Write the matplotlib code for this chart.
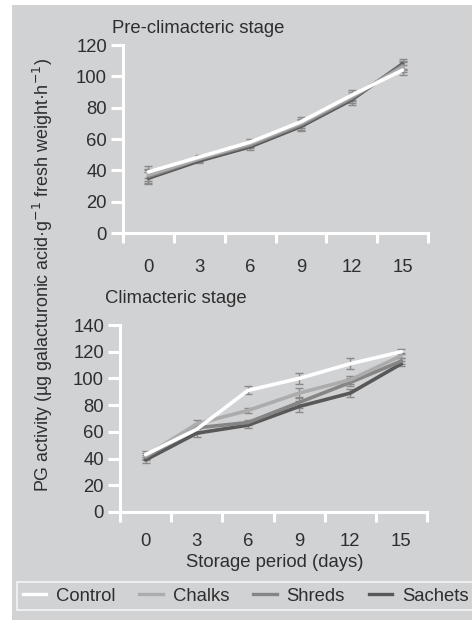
import matplotlib
matplotlib.use("Agg")
import matplotlib.pyplot as plt
from matplotlib.patches import Rectangle
from matplotlib.lines import Line2D

BG, INK, EBAR = "#d1d2d4", "#2e2e2e", "#8a8a8a"
FS = 13.3

# ---- data ----
days = ["0", "3", "6", "9", "12", "15"]
treatments = ["Control", "Chalks", "Shreds", "Sachets"]
colors = ["#ffffff", "#acacac", "#858585", "#585858"]

pre_control = [39, 48.5, 58, 71, 88, 104]
pre_chalks = [37, 47.5, 57, 70, 87, 106]
pre_shreds = [36, 47, 56, 69, 86, 107]
pre_sachets = [35, 46, 55, 68, 85, 108]
pre_err = [4, 1.5, 2, 3, 3, 3]

cli_control = [43, 62, 91, 100, 111, 120]
cli_chalks = [42, 66, 76, 89, 99, 117]
cli_shreds = [41, 63, 67, 82, 97, 113]
cli_sachets = [39, 59, 65, 79, 89, 111]
cli_err_control = [3, 3, 3, 4, 4, 2]
cli_err_other = [2, 3, 2, 4, 3, 2]

plt.rcParams.update({"font.family": ["Liberation Sans", "DejaVu Sans"],
                     "text.color": INK, "font.size": FS})

W, H = 472, 621
fig = plt.figure(figsize=(W / 100, H / 100), dpi=100, facecolor="white")
# grey panel behind everything
fig.patches.append(Rectangle((12 / W, 1 / H), 1 - 12 / W, (H - 6) / H,
                             transform=fig.transFigure, facecolor=BG,
                             edgecolor="none", zorder=-10))


def style(ax, ymax, ystep, xpad):
    ax.set_facecolor("none")
    ax.set_zorder(1)
    for s in ["top", "right"]:
        ax.spines[s].set_visible(False)
    for s in ["left", "bottom"]:
        ax.spines[s].set_color("white")
        ax.spines[s].set_linewidth(2.2)
    ax.set_xlim(-0.5, 5.5)
    ax.set_ylim(0, ymax)
    ax.set_yticks(range(0, ymax + 1, ystep))
    ax.set_xticks([i - 0.5 for i in range(7)])
    ax.set_xticklabels([])
    ax.set_xticks(range(6), minor=True)
    ax.set_xticklabels(days, minor=True)
    ax.tick_params(axis="x", which="major", length=7, width=2.2, color="white")
    ax.tick_params(axis="x", which="minor", length=0, pad=xpad, labelcolor=INK,
                   labelsize=FS)
    ax.tick_params(axis="y", length=8.5, width=2.2, color="white", pad=3,
                   labelcolor=INK, labelsize=FS)


def draw(ax, series, errs):
    x = range(6)
    for (vals, err), col, name in reversed(list(zip(zip(series, errs), colors, treatments))):
        ax.errorbar(x, vals, yerr=err, color=col, lw=2.6, ecolor=EBAR,
                    elinewidth=1, capsize=3.2, capthick=1, label=name,
                    solid_capstyle="round", solid_joinstyle="round")


ax1 = fig.add_axes([123 / W, (H - 233) / H, 305 / W, 188 / H])
style(ax1, 120, 20, 18.5)
draw(ax1, [pre_control, pre_chalks, pre_shreds, pre_sachets], [pre_err] * 4)

ax2 = fig.add_axes([120 / W, (H - 512) / H, 307 / W, 187 / H])
style(ax2, 140, 20, 15)
draw(ax2, [cli_control, cli_chalks, cli_shreds, cli_sachets],
     [cli_err_control, cli_err_other, cli_err_other, cli_err_other])

fig.text(112 / W, (H - 33) / H, "Pre-climacteric stage", va="baseline")
fig.text(105 / W, (H - 303) / H, "Climacteric stage", va="baseline")
fig.text(275 / W, (H - 567) / H, "Storage period (days)", ha="center", va="baseline")
fig.text(43 / W, (H - 275) / H,
         "PG activity (µg galacturonic acid·g$^{-1}$ fresh weight·h$^{-1}$)",
         rotation=90, ha="center", va="center", fontsize=12.9)

handles = [Line2D([], [], color=c, lw=2.4) for c in colors]
leg = fig.legend(handles, treatments, loc="upper left", ncol=4,
                 bbox_to_anchor=(17 / W, (H - 582) / H), borderaxespad=0,
                 frameon=True, fancybox=False, handlelength=1.25,
                 handletextpad=0.55, columnspacing=1.31, borderpad=0.3,
                 fontsize=FS)
leg.get_frame().set_facecolor(BG)
leg.get_frame().set_edgecolor("white")
leg.get_frame().set_linewidth(1.2)

fig.savefig("out.png", dpi=100, facecolor="white")
